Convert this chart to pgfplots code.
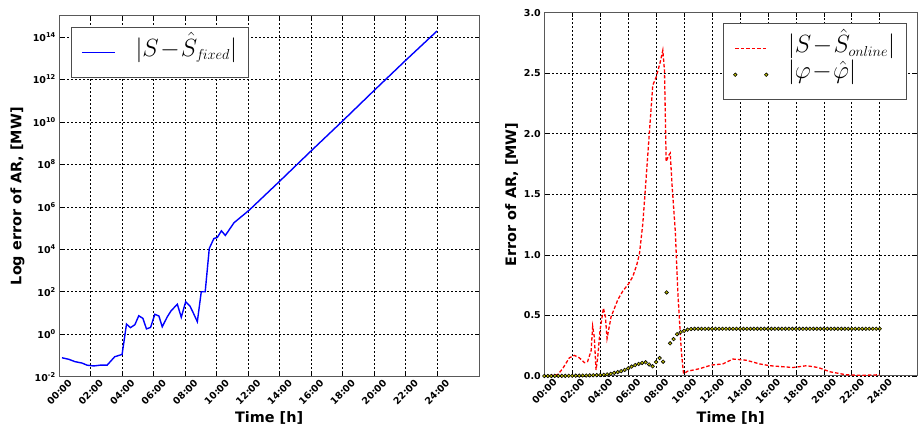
\documentclass[border=0pt]{standalone}
\usepackage{fontspec}
\setmainfont{DejaVu Sans}
\usepackage{pgfplots}
\pgfplotsset{compat=1.18}

\definecolor{dotfill}{rgb}{0.75,0.75,0}
% subscript set in the math italic font, without math italic corrections
\newcommand{\subs}[1]{\mbox{\fontsize{14.4}{16}\usefont{OML}{cmm}{m}{it}#1}}

\pgfplotsset{
  linelegend/.style={legend image code/.code={\draw[##1] (0pt,0pt) -- (#1,0pt);}},
  dotlegend/.style={legend image code/.code={%
    \draw[##1] plot coordinates {(0pt,0pt)};
    \draw[##1] plot coordinates {(#1,0pt)};}},
  errstyle/.style={
    scale only axis,
    anchor=south west,
    xmin=0, xmax=26.667,
    xtick={0,2,...,24},
    xticklabels={00:00,02:00,04:00,06:00,08:00,10:00,12:00,14:00,16:00,18:00,20:00,22:00,24:00},
    xticklabel style={yshift=-15.5pt, rotate=45, anchor=center},
    ticklabel style={font=\bfseries\fontsize{9.5}{11}\selectfont},
    label style={font=\bfseries\fontsize{14.4}{16}\selectfont},
    axis line style={black!65, line width=1pt},
    tick style={black, line width=0.6pt},
    major tick length=4pt,
    tick align=inside,
    grid=major,
    grid style={black, dash pattern=on 2pt off 2pt, line width=0.6pt},
    legend cell align=left,
    legend style={draw=black!70, line width=1pt, fill=white,
      font=\Huge, row sep=0pt, inner xsep=10pt, inner ysep=12pt,
      column sep=19pt,
      nodes={inner sep=1pt, text height=16pt, text depth=8pt}},
  },
}

\begin{document}
\begin{tikzpicture}
\path[use as bounding box] (0,0) rectangle (921pt,428pt);

% left panel: fixed model, log scale
\begin{axis}[errstyle,
    at={(59.3pt,51.3pt)}, width=419.7pt, height=361pt,
    ymode=log, ymin=1e-2, ymax=1e15,
    ytick={1e-2,1e0,1e2,1e4,1e6,1e8,1e10,1e12,1e14},
    yticklabels={10\textsuperscript{-2},10\textsuperscript{0},10\textsuperscript{2},10\textsuperscript{4},10\textsuperscript{6},10\textsuperscript{8},10\textsuperscript{10},10\textsuperscript{12},10\textsuperscript{14}},
    minor ytick={},
    xlabel={Time [h]}, ylabel={Log error of AR, [MW]},
    xlabel style={at={(axis description cs:0.5,-0.114)}, anchor=center},
    ylabel style={at={(axis description cs:-0.0996,0.5)}, anchor=center},
    legend style={at={(0.027,0.9695)}, anchor=north west},
]
\addplot[blue, line width=1.4pt, linelegend=33pt] coordinates {
  (0.17,0.078) (0.6,0.066) (1.0,0.051) (1.44,0.044) (1.76,0.035) (2.19,0.032)
  (2.61,0.035) (3.04,0.035) (3.52,0.087) (3.99,0.112) (4.27,3.0) (4.52,2.04)
  (4.8,2.8) (5.05,7.4) (5.31,5.6) (5.54,1.78) (5.8,2.1) (6.07,8.7) (6.33,7.2)
  (6.54,2.24) (6.86,6.6) (7.11,12.9) (7.5,25.7) (7.75,6.3) (8.03,33.9)
  (8.3,21.4) (8.51,10.2) (8.77,3.9) (9.02,100) (9.27,100) (9.53,1.1e4)
  (9.82,3.2e4) (10.04,3.6e4) (10.3,7.4e4) (10.55,4.5e4) (11.1,1.78e5)
  (12.06,6.9e5) (14,1.6e7) (16,4.3e8) (18,1.1e10) (20,3.0e11) (22,7.8e12)
  (24,1.9e14)
};
\addlegendentry{$|S\!-\!\hat{S}_{\subs{fixed}}|$}
\end{axis}

% right panel: online model
\begin{axis}[errstyle,
    at={(544.3pt,52pt)}, width=372.7pt, height=363.3pt,
    ymin=0, ymax=3,
    ytick={0,0.5,...,3},
    yticklabels={0.0,0.5,1.0,1.5,2.0,2.5,3.0},
    xlabel={Time [h]}, ylabel={Error of AR, [MW]},
    xlabel style={at={(axis description cs:0.5,-0.1156)}, anchor=center},
    ylabel style={at={(axis description cs:-0.0875,0.5)}, anchor=center},
    legend style={at={(0.972,0.971)}, anchor=north east},
]
\addplot[red, line width=1.3pt, dash pattern=on 3.5pt off 2pt, linelegend=31pt] coordinates {
  (0.0,0.0) (0.12,0) (0.95,0.01) (1.31,0.06) (1.79,0.15) (2.15,0.17) (2.51,0.15)
  (2.87,0.11) (3.1,0.12) (3.35,0.21) (3.46,0.41) (3.58,0.32) (3.7,0.05)
  (3.82,0.15) (3.99,0.38) (4.23,0.56) (4.37,0.49) (4.49,0.31) (4.78,0.49)
  (5.26,0.63) (5.61,0.70) (6.02,0.76) (6.33,0.82) (6.62,0.92) (6.81,1.01)
  (7.05,1.26) (7.29,1.64) (7.53,2.03) (7.76,2.40) (8.01,2.47) (8.29,2.59)
  (8.48,2.69) (8.6,2.52) (8.72,1.77) (8.89,1.82) (9.01,1.84) (9.15,1.56)
  (9.37,1.20) (9.56,0.68) (9.8,0.21) (9.96,0.02) (10.27,0.04) (11.1,0.06)
  (11.95,0.09) (12.78,0.10) (13.5,0.14) (14.46,0.13) (15.4,0.10) (16.13,0.085)
  (17.8,0.07) (18.76,0.085) (19.6,0.07) (20.43,0.035) (21.6,0.01) (22.6,0.005)
  (24.0,0.01)
};
\addlegendentry{$|S\!-\!\hat{S}_{\subs{online}}|$}
\addplot[only marks, mark=*, mark size=1.8pt,
  mark options={fill=dotfill, draw=black, line width=0.6pt}, dotlegend=31pt] coordinates {
  (0,0.0) (0.25,0.0) (0.5,0.0) (0.75,0.001) (1.0,0.001) (1.25,0.001) (1.5,0.001)
  (1.75,0.002) (2.0,0.002) (2.25,0.003) (2.5,0.003) (2.75,0.004) (3.0,0.004)
  (3.25,0.005) (3.5,0.006) (3.75,0.007) (4.0,0.008) (4.25,0.010) (4.5,0.013)
  (4.75,0.018) (5.0,0.026) (5.25,0.032) (5.5,0.040) (5.75,0.050) (6.0,0.063)
  (6.25,0.078) (6.5,0.090) (6.75,0.100) (7.0,0.108) (7.25,0.113) (7.5,0.095)
  (7.75,0.080) (8.0,0.115) (8.25,0.148) (8.5,0.118) (8.75,0.69) (9.0,0.27)
  (9.25,0.305) (9.5,0.345) (9.75,0.362) (10.0,0.373) (10.25,0.383) (10.5,0.388)
  (10.75,0.39) (11.0,0.39) (11.25,0.39) (11.5,0.39) (11.75,0.39) (12.0,0.39)
  (12.25,0.39) (12.5,0.39) (12.75,0.39) (13.0,0.39) (13.25,0.39) (13.5,0.39)
  (13.75,0.39) (14.0,0.39) (14.25,0.39) (14.5,0.39) (14.75,0.39) (15.0,0.39)
  (15.25,0.39) (15.5,0.39) (15.75,0.39) (16.0,0.39) (16.25,0.39) (16.5,0.39)
  (16.75,0.39) (17.0,0.39) (17.25,0.39) (17.5,0.39) (17.75,0.39) (18.0,0.39)
  (18.25,0.39) (18.5,0.39) (18.75,0.39) (19.0,0.39) (19.25,0.39) (19.5,0.39)
  (19.75,0.39) (20.0,0.39) (20.25,0.39) (20.5,0.39) (20.75,0.39) (21.0,0.39)
  (21.25,0.39) (21.5,0.39) (21.75,0.39) (22.0,0.39) (22.25,0.39) (22.5,0.39)
  (22.75,0.39) (23.0,0.39) (23.25,0.39) (23.5,0.39) (23.75,0.39) (24.0,0.39)
};
\addlegendentry{$|\varphi\!-\!\hat{\varphi}|$}
\end{axis}
\end{tikzpicture}
\end{document}
